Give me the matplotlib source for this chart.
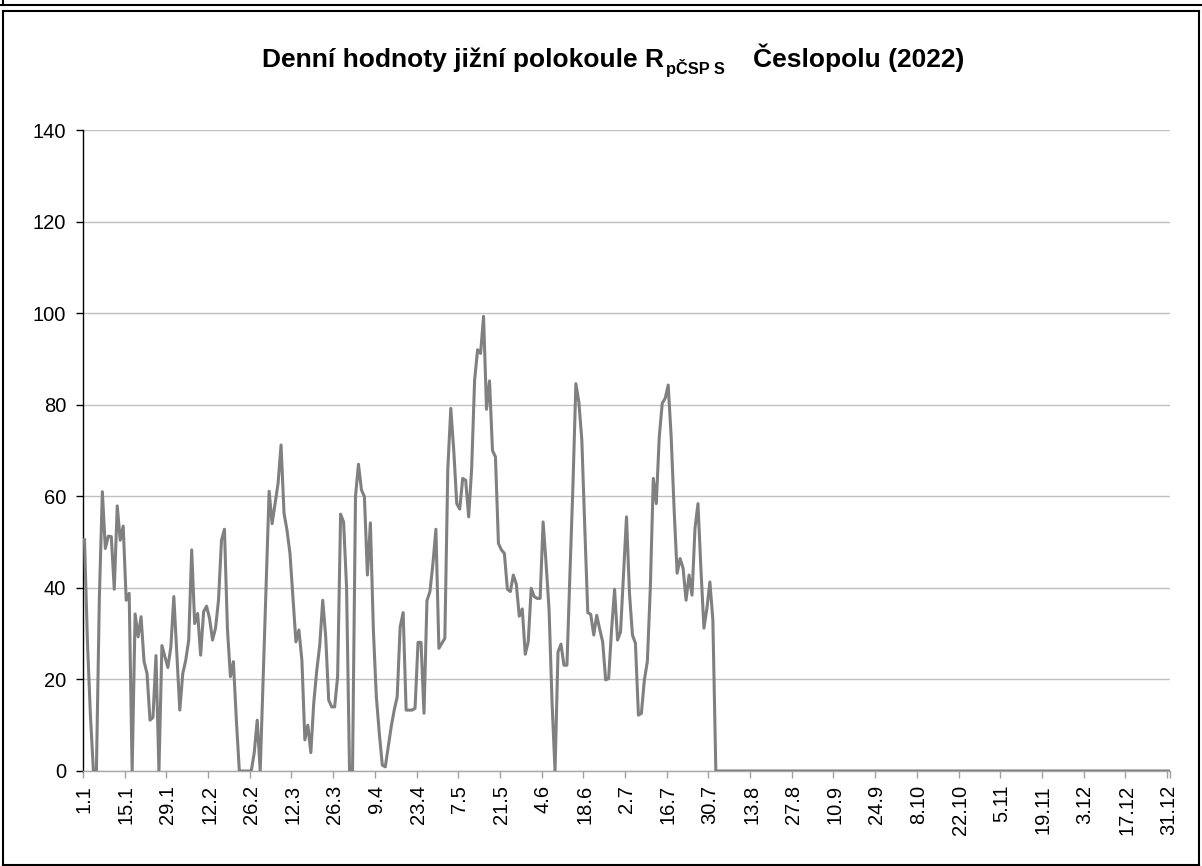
import matplotlib
matplotlib.use('Agg')
import matplotlib.pyplot as plt
from matplotlib.lines import Line2D
from matplotlib.ticker import FixedLocator

# ---------------- data ----------------
measured_values = [
    50.5, 28, 12, 0, 0, 38, 61, 48.6, 51.3, 51.2,
    39.7, 57.9, 50.4, 53.5, 37.3, 38.8, 0, 34.3, 29.3, 33.7,
    23.9, 21.3, 11.1, 11.7, 25.2, 0, 27.4, 25, 22.6, 27.1,
    38.1, 25.7, 13.3, 21.3, 24.2, 28.6, 48.3, 32.2, 34.4, 25.3,
    34.8, 36, 33.3, 28.6, 31.2, 37.3, 50.4, 52.8, 31, 20.6,
    23.9, 11, 0, 0, 0, 0, 0, 4, 11.1, 0,
    20.4, 40.7, 61.1, 54, 58.4, 62.8, 71.2, 56.3, 52.6, 47.5,
    38, 28.2, 30.8, 24.2, 6.8, 10, 4, 15, 22, 27.5,
    37.3, 29.3, 15.5, 14, 14, 20.6, 56.1, 54.4, 40.2, 0,
    0, 60, 67, 61.4, 59.9, 42.8, 54.2, 30.8, 16.2, 8.2,
    1.3, 0.9, 5.3, 9.7, 13.3, 16.2, 31.5, 34.6, 13.3, 13.3,
    13.3, 13.7, 28.1, 28.1, 12.6, 37.2, 39.2, 45.3, 52.8, 26.8,
    27.9, 29, 66, 79.2, 70, 58.4, 57.2, 63.9, 63.5, 55.5,
    66, 85.4, 92, 91.2, 99.3, 79, 85.2, 70, 68.6, 49.7,
    48.3, 47.5, 39.7, 39.2, 42.8, 40.8, 33.8, 35.4, 25.5, 28.2,
    39.9, 38.1, 37.7, 37.7, 54.4, 45.3, 35.2, 15, 0, 26,
    27.7, 23.1, 23.1, 43, 62, 84.6, 80.6, 72.3, 53, 34.6,
    34.2, 29.7, 34, 31, 28.2, 19.9, 20.2, 31, 39.7, 28.6,
    30.4, 43, 55.5, 38.8, 29.7, 27.9, 12.2, 12.6, 19.9, 23.9,
    40, 63.9, 58.4, 73, 80.3, 81.4, 84.3, 73, 57, 43.2,
    46.4, 44.3, 37.3, 42.8, 38.4, 53, 58.4, 44, 31.2, 35.5,
    41.3, 33, 0,
]
n_days = 365
values = measured_values + [0.0] * (n_days - len(measured_values))

tick_labels = ['1.1', '15.1', '29.1', '12.2', '26.2', '12.3', '26.3', '9.4',
               '23.4', '7.5', '21.5', '4.6', '18.6', '2.7', '16.7', '30.7',
               '13.8', '27.8', '10.9', '24.9', '8.10', '22.10', '5.11',
               '19.11', '3.12', '17.12', '31.12']
label_step = 14

y_ticks = [0, 20, 40, 60, 80, 100, 120, 140]

title_main = 'Denní hodnoty jižní polokoule R'
title_sub = 'pČSP S'
title_tail = 'Česlopolu (2022)'

# ---------------- figure ----------------
W, H = 1202, 866
plt.rcParams['font.family'] = ['Liberation Sans', 'DejaVu Sans']
fig = plt.figure(figsize=(W / 100, H / 100), dpi=100)

ax = fig.add_axes([83 / W, (H - 771) / H, (1170 - 83) / W, (771 - 130) / H])

x = list(range(n_days))
ax.plot(x, values, color='#808080', lw=2.2, solid_joinstyle='round', zorder=3)

ax.set_xlim(-0.5, n_days - 0.5)
ax.set_ylim(0, 140)

ax.set_yticks(y_ticks)
ax.set_yticklabels([str(v) for v in y_ticks], fontsize=14.5)
ax.yaxis.grid(True, color='#c0c0c0', lw=1)
ax.set_axisbelow(True)

label_pos = [i * label_step for i in range(len(tick_labels))]
ax.xaxis.set_major_locator(FixedLocator(label_pos))
ax.set_xticklabels(tick_labels, rotation=90, fontsize=14.5)
minor_pos = [p - 0.5 for p in label_pos] + [n_days - 0.5]
ax.xaxis.set_minor_locator(FixedLocator(minor_pos))
ax.tick_params(axis='x', which='major', length=0, pad=10)
ax.tick_params(axis='x', which='minor', length=5, color='#a0a0a0', width=1)
ax.tick_params(axis='y', which='major', length=5, color='black', width=1, pad=7)

for s in ['top', 'right']:
    ax.spines[s].set_visible(False)
ax.spines['left'].set_color('black')
ax.spines['left'].set_linewidth(1)
ax.spines['bottom'].set_color('#a8a8a8')
ax.spines['bottom'].set_linewidth(1)

# ---------------- title with subscript ----------------
fs = 19
renderer = fig.canvas.get_renderer()
y_base = 1 - 67 / H
t1 = fig.text(0, y_base, title_main, fontsize=fs, fontweight='bold', va='baseline')
t2 = fig.text(0, y_base - 7 / H, title_sub, fontsize=fs * 0.62, fontweight='bold', va='baseline')
t3 = fig.text(0, y_base, title_tail, fontsize=fs, fontweight='bold', va='baseline')
w1 = t1.get_window_extent(renderer).width
w2 = t2.get_window_extent(renderer).width
w3 = t3.get_window_extent(renderer).width
gap = 28
total = w1 + 2 + w2 + gap + w3
x0 = 613 - total / 2
t1.set_x(x0 / W)
t2.set_x((x0 + w1 + 2) / W)
t3.set_x((x0 + w1 + 2 + w2 + gap) / W)

# ---------------- frames ----------------
def fline(x1, y1, x2, y2, lw=1.5):
    fig.add_artist(Line2D([x1 / W, x2 / W], [1 - y1 / H, 1 - y2 / H],
                          transform=fig.transFigure, color='black', lw=lw))

fline(0, 5, W, 5)
fline(3, 0, 3, 5)
fline(3, 10.5, W - 3, 10.5)
fline(3, 10.5, 3, H - 1)
fline(W - 3, 10.5, W - 3, H - 1)
fline(3, H - 1.5, W - 3, H - 1.5)

fig.savefig('out.png', dpi=100, facecolor='white')
